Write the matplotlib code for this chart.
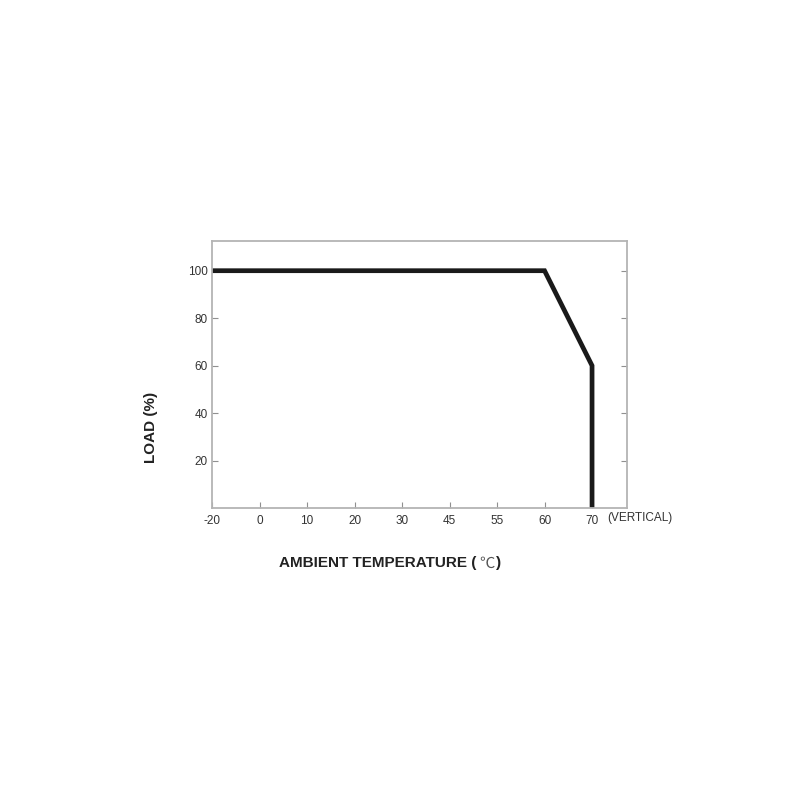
import numpy as np
import matplotlib.pyplot as plt

# derating curve data
temp_labels = ['-20', '0', '10', '20', '30', '45', '55', '60', '70']
curve_temp = ['-20', '60', '70', '70']
curve_load = [100, 100, 60, 0]
load_ticks = [20, 40, 60, 80, 100]

pos = {t: i for i, t in enumerate(temp_labels)}
xs = [pos[t] for t in curve_temp]

plt.rcParams['font.family'] = ['Liberation Sans', 'DejaVu Sans']

fig = plt.figure(figsize=(8, 8), dpi=100)
ax = fig.add_axes([0.265, 0.365, 0.519, 0.334])

ax.plot(xs, curve_load, color='#1a1a1a', lw=3.4, solid_joinstyle='miter')

ax.set_xlim(0, 8.74)
ax.set_ylim(0, 112.6)
ax.set_xticks(range(len(temp_labels)))
ax.set_xticklabels(temp_labels)
ax.set_yticks(load_ticks)

for s in ax.spines.values():
    s.set_color('#b4b4b4')
    s.set_linewidth(1.3)

ax.tick_params(axis='both', direction='in', length=4, width=0.8, color='#909090',
               labelsize=8.5, labelcolor='#333333')
ax.tick_params(axis='x', pad=5)
ax.tick_params(axis='y', pad=3)
ax.tick_params(axis='y', which='both', right=True)
for t in ax.yaxis.get_ticklines()[1::2]:
    t.set_color('#5a5a8c')

ax.text(8.32, -4.4, '(VERTICAL)', fontsize=8.5, color='#333333', va='center', ha='left')

fig.text(0.189, 0.466, 'LOAD (%)', fontsize=11, fontweight='bold', color='#222222',
         rotation=90, ha='center', va='center')

t1 = fig.text(0.349, 0.296, 'AMBIENT TEMPERATURE (', fontsize=11, fontweight='bold',
              color='#222222', ha='left', va='center')
t2 = fig.add_artist(plt.Annotation('\u2103', xy=(1, 0.5), xycoords=t1, xytext=(2, 0),
                                   textcoords='offset points', fontsize=11, color='#555555',
                                   family=['Noto Sans CJK SC', 'DejaVu Sans'],
                                   ha='left', va='center'))
t3 = fig.add_artist(plt.Annotation(')', xy=(1, 0.5), xycoords=t2, xytext=(1, 0),
                                   textcoords='offset points', fontsize=11,
                                   fontweight='bold', color='#222222', ha='left', va='center'))

fig.savefig('out.png', dpi=100)
